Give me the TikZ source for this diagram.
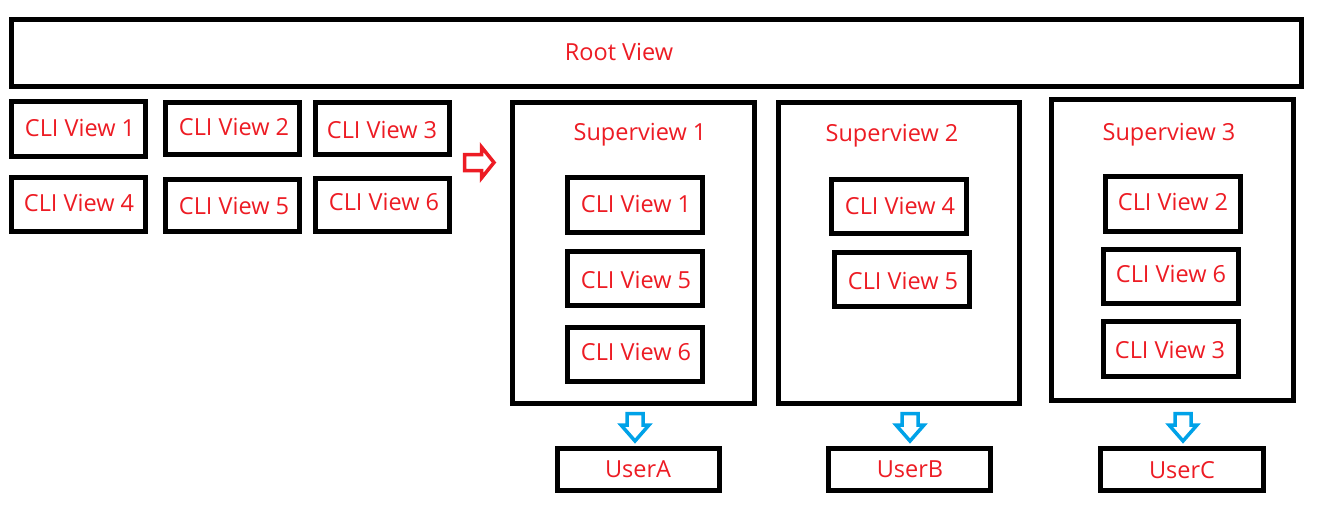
\documentclass[tikz,border=0pt]{standalone}
\usepackage{fontspec}
\setmainfont{Open Sans}
\definecolor{pred}{RGB}{237,28,36}
\definecolor{pblue}{RGB}{0,162,232}
\begin{document}
\begin{tikzpicture}[x=1pt,y=-1pt,
  box/.style={draw=black,line width=5pt,inner sep=0pt},
  lbl/.style={text=pred,font=\fontsize{23.5}{26}\selectfont,inner sep=0pt,anchor=base},
  redarrow/.style={draw=pred,line width=3.5pt,fill=white,line join=miter},
  bluearrow/.style={draw=pblue,line width=3.5pt,fill=white,line join=miter}]
\useasboundingbox[fill=white] (0,0) rectangle (1329,506);
% root
\draw[box] (11.5,19.5) rectangle (1301.5,86.5);
\node[lbl] (root) at (619,60) {Root View};
% boxes with labels: x1,y1,x2,y2,name,text,labelx,labelbaseline
\newcommand{\cbox}[8]{%
  \draw[box] (#1,#2) rectangle (#3,#4);
  \node[lbl] (#5) at (#7,#8) {#6};}
\cbox{11.5}{101.5}{145.5}{156.5}{a1}{CLI View 1}{80}{136}
\cbox{11.5}{177.5}{145.5}{231.5}{a4}{CLI View 4}{79}{211}
\cbox{165.5}{102.5}{299.5}{154.5}{a2}{CLI View 2}{234}{135}
\cbox{165.5}{179.5}{299.5}{231.5}{a5}{CLI View 5}{234}{214}
\cbox{315.5}{102.5}{449.5}{154.5}{a3}{CLI View 3}{382}{138}
\cbox{315.5}{178.5}{449.5}{231.5}{a6}{CLI View 6}{384}{210}
% red arrow
\draw[redarrow] (464.5,154.5) -- (481.5,154.5) -- (481.5,147) -- (494,162.5) -- (481.5,178) -- (481.5,170.5) -- (464.5,170.5) -- cycle;
% superviews
\draw[box] (512.5,102.5) rectangle (754.5,403.5);
\node[lbl] (s1) at (640,140) {Superview 1};
\cbox{567.5}{177.5}{702.5}{232.5}{b1}{CLI View 1}{636}{212}
\cbox{567.5}{251.5}{702.5}{305.5}{b5}{CLI View 5}{636}{288}
\cbox{567.5}{327.5}{702.5}{381.5}{b6}{CLI View 6}{636}{360}
\draw[box] (778.5,102.5) rectangle (1019.5,403.5);
\node[lbl] (s2) at (892,141) {Superview 2};
\cbox{831.5}{179.5}{966.5}{233.5}{c4}{CLI View 4}{900}{214}
\cbox{834.5}{252.5}{969.5}{306.5}{c5}{CLI View 5}{903}{289}
\draw[box] (1051.5,99.5) rectangle (1293.5,400.5);
\node[lbl] (s3) at (1169,140) {Superview 3};
\cbox{1105.5}{176.5}{1240.5}{231.5}{d2}{CLI View 2}{1173}{210}
\cbox{1103.5}{249.5}{1238.5}{303.5}{d6}{CLI View 6}{1171}{282}
\cbox{1103.5}{321.5}{1238.5}{376.5}{d3}{CLI View 3}{1170}{358}
% blue arrows
\foreach \cx in {635,910,1183}{
  \draw[bluearrow] (\cx-8,413.5) -- (\cx+8,413.5) -- (\cx+8,425) -- (\cx+14,425) -- (\cx,441) -- (\cx-14,425) -- (\cx-8,425) -- cycle;}
% users
\cbox{557.5}{448.5}{719.5}{490.5}{ua}{UserA}{638}{477}
\cbox{828.5}{448.5}{990.5}{490.5}{ub}{UserB}{910}{477}
\cbox{1100.5}{448.5}{1263.5}{490.5}{uc}{UserC}{1182}{478}
\end{tikzpicture}
\end{document}
